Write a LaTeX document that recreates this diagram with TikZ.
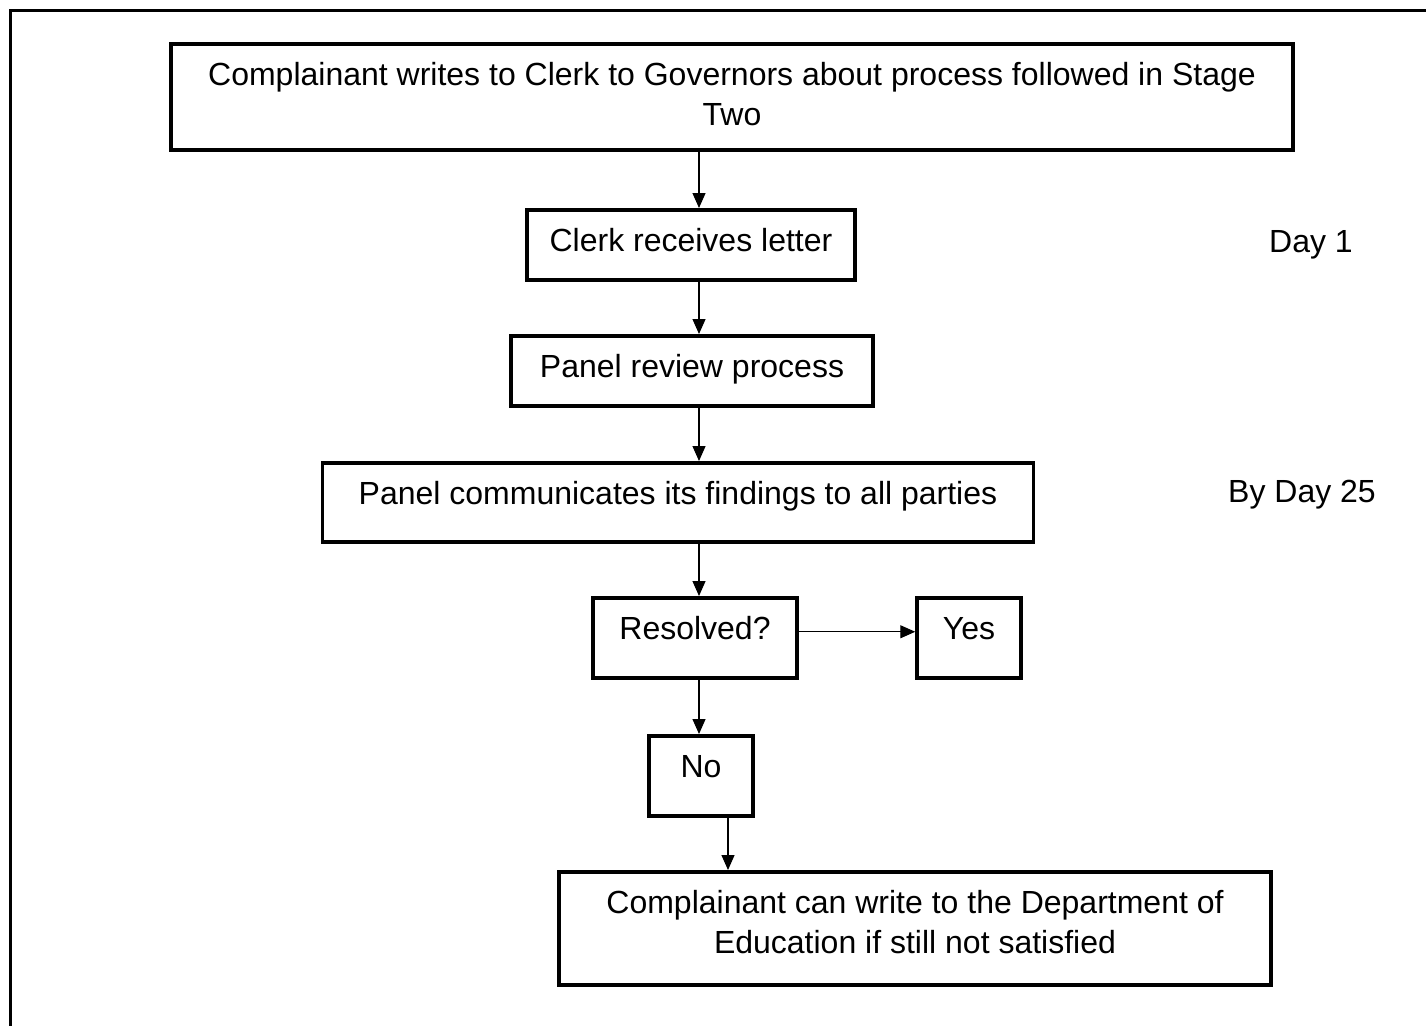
\documentclass[tikz,border=0pt]{standalone}
\usepackage{fontspec}
\setmainfont{Liberation Sans}
\usetikzlibrary{arrows.meta}

\begin{document}
\begin{tikzpicture}[
    x = 1pt, y = -1pt,
    %
    box/.style = {draw,
      line width = 3.5pt,
      anchor = north,
      inner xsep = 0pt, inner ysep = 0pt,
      align = center,
      text height = 42pt,
      font = \fontsize{32}{40}\selectfont},
    %
    twoline/.style = {text height = 82pt},
    %
    flow/.style = {-{Triangle[length = 15pt, width = 13pt]},
      line width = 1.3pt},
    note/.style = {anchor = base,
      font = \fontsize{32}{40}\selectfont},
    ]

    \useasboundingbox (0, 0) rectangle (1426, 1026);
    \draw [line width = 3pt] (1426, 10) -- (10, 10) -- (10, 1026);

    \coordinate (spine) at (699, 0);
    \coordinate (drop) at (728, 0);

    \node at (732, 42)
    [box, twoline, minimum width = 1122pt, text depth = 24pt, name = letter]
    {Complainant writes to Clerk to Governors about process followed in Stage\\ Two};

    \node at (691, 208)
    [box, minimum width = 328pt, text depth = 28pt, name = receive]
    {Clerk receives letter};

    \node at (692, 334)
    [box, minimum width = 362pt, text depth = 28pt, name = review]
    {Panel review process};

    \node at (678, 461)
    [box, minimum width = 711pt, text depth = 37pt, name = findings]
    {Panel communicates its findings to all parties};

    \node at (695, 596)
    [box, minimum width = 204pt, text depth = 38pt, name = resolved]
    {Resolved?};
    \node at (969, 596)
    [box, minimum width = 104pt, text depth = 38pt, name = yes]
    {Yes};

    \node at (701, 734)
    [box, minimum width = 104pt, text depth = 38pt, name = no]
    {No};

    \node at (915, 870)
    [box, twoline, minimum width = 712pt, text depth = 31pt, name = dfe]
    {Complainant can write to the Department of\\ Education if still not satisfied};

    \node at (1311, 252) [note, name = day1] {Day 1};
    \node at (1302, 502) [note, name = day25] {By Day 25};

    \draw [flow] (letter.south -| spine) -- (receive.north -| spine);
    \draw [flow] (receive.south -| spine) -- (review.north -| spine);
    \draw [flow] (review.south -| spine) -- (findings.north -| spine);
    \draw [flow] (findings.south -| spine) -- (resolved.north -| spine);
    \draw [flow] ([yshift = 6pt] resolved.east) -- ([yshift = 6pt] yes.west);
    \draw [flow] (resolved.south -| spine) -- (no.north -| spine);
    \draw [flow] (no.south -| drop) -- (dfe.north -| drop);

  \end{tikzpicture}
\end{document}
